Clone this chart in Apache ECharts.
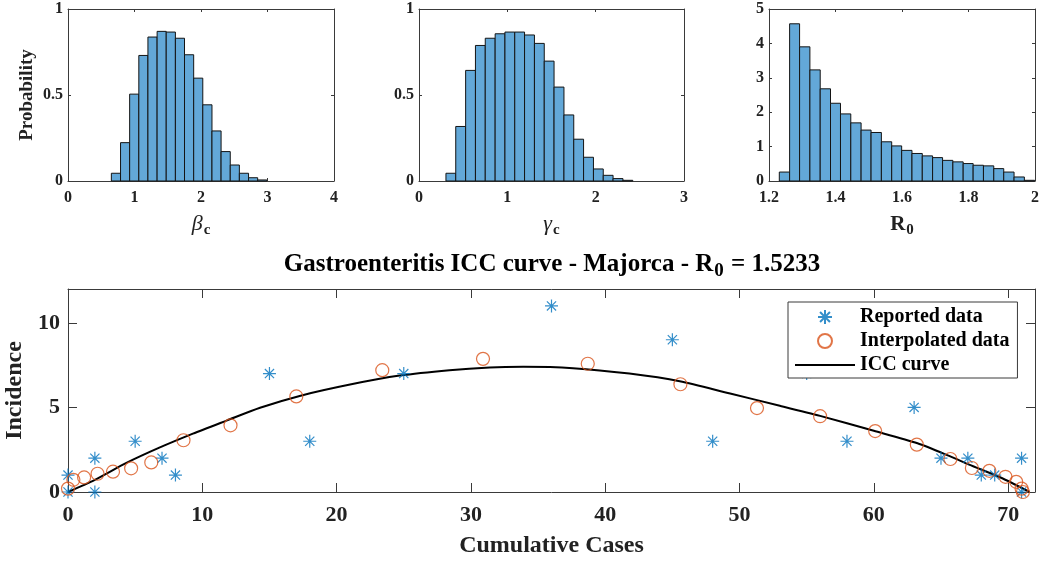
<!DOCTYPE html>
<html>
<head>
<meta charset="utf-8">
<title>Gastroenteritis ICC curve - Majorca</title>
<script src="https://cdn.jsdelivr.net/npm/echarts@6/dist/echarts.min.js"></script>
<style>
  html, body { margin: 0; padding: 0; background: #ffffff; }
  #chart { width: 1039px; height: 561px; }
</style>
</head>
<body>
<div id="chart"></div>
<script>
// ---- Posterior histograms (bin edges and bar heights) ----
const betaEdges = [0.652, 0.790, 0.927, 1.065, 1.202, 1.340, 1.477, 1.615, 1.752, 1.890,
                   2.027, 2.165, 2.302, 2.440, 2.577, 2.715, 2.852, 2.990];
const betaProb  = [0.045, 0.223, 0.505, 0.730, 0.837, 0.870, 0.866, 0.830, 0.734, 0.598,
                   0.443, 0.291, 0.171, 0.093, 0.045, 0.019, 0.006];

const gammaEdges = [0.305, 0.416, 0.528, 0.639, 0.750, 0.862, 0.973, 1.084, 1.195, 1.307,
                    1.418, 1.529, 1.641, 1.752, 1.863, 1.975, 2.086, 2.197, 2.309, 2.420];
const gammaProb  = [0.045, 0.317, 0.643, 0.788, 0.830, 0.856, 0.866, 0.866, 0.849, 0.800,
                    0.697, 0.546, 0.384, 0.243, 0.138, 0.070, 0.033, 0.014, 0.004];

const r0Edges = [1.231, 1.262, 1.292, 1.323, 1.354, 1.385, 1.415, 1.446, 1.477, 1.507,
                 1.538, 1.569, 1.599, 1.630, 1.661, 1.692, 1.722, 1.753, 1.784, 1.814,
                 1.845, 1.876, 1.906, 1.937, 1.968, 1.999];
const r0Prob  = [0.26, 4.57, 3.90, 3.23, 2.68, 2.26, 1.95, 1.69, 1.48, 1.41,
                 1.14, 1.02, 0.89, 0.80, 0.73, 0.68, 0.60, 0.556, 0.507, 0.458,
                 0.44, 0.36, 0.26, 0.117, 0.02];

// ---- Incidence vs cumulative cases ----
const reportedCum = [0, 0, 2, 2, 5, 7, 8, 15, 18, 25, 36, 45, 48, 55, 58, 63, 65, 67, 68, 69, 71, 71];
const reportedInc = [1, 0, 2, 0, 3, 2, 1, 7, 3, 7, 11, 9, 3, 7, 3, 5, 2, 2, 1, 1, 2, 0];

const interpCum = [0, 0.4, 1.2, 2.2, 3.35, 4.7, 6.2, 8.6, 12.1, 17, 23.4, 30.9, 38.7, 45.6,
                   51.3, 56, 60.1, 63.2, 65.7, 67.3, 68.6, 69.8, 70.6, 71, 71.1];
const interpInc = [0.2, 0.72, 0.86, 1.08, 1.2, 1.4, 1.75, 3.06, 3.94, 5.65, 7.2, 7.87, 7.58, 6.37,
                   4.96, 4.48, 3.6, 2.8, 1.95, 1.42, 1.25, 0.9, 0.6, 0.2, 0];

const iccCum = [0, 2, 4.35, 6.8, 9.3, 11.8, 14.3, 17.25, 21, 24.7, 28.4, 31.4, 33.9, 37.6,
                41.8, 45.55, 49.3, 53, 56, 60, 63.25, 65.65, 67.1, 69.6, 71.6];
const iccInc = [0, 0.72, 1.72, 2.62, 3.45, 4.22, 4.98, 5.68, 6.35, 6.88, 7.2, 7.36, 7.4, 7.32,
                7.0, 6.55, 5.82, 5.1, 4.5, 3.62, 2.88, 2.12, 1.62, 0.8, 0];

// ---- Styling ----
const SERIF = '"Liberation Serif", "Times New Roman", serif';
const AXIS_COLOR = '#3a3a3a';
const TEXT_COLOR = '#222222';
const BAR_FILL = '#63a8d8';
const BLUE = '#0072bd';
const ORANGE = '#d95319';

const chart = echarts.init(document.getElementById('chart'), null, { renderer: 'canvas' });

const pairs = (xs, ys) => xs.map((x, i) => [x, ys[i]]);
const bins = (edges, heights) => heights.map((h, i) => [edges[i], edges[i + 1], h]);

function renderBin(params, api) {
  const top = api.coord([api.value(0), api.value(2)]);
  const bot = api.coord([api.value(1), 0]);
  return {
    type: 'rect',
    shape: { x: top[0], y: top[1], width: bot[0] - top[0], height: bot[1] - top[1] },
    style: { fill: BAR_FILL, stroke: '#141414', lineWidth: 1 }
  };
}

const lineStyle = { color: AXIS_COLOR, width: 1 };

// Four axes per panel so the frame carries ticks on every side.
function frame(gridIndex, xr, yr, o) {
  const labelStyle = {
    fontFamily: SERIF, fontWeight: 'bold', fontSize: o.tickFont, color: TEXT_COLOR
  };
  const common = (r) => ({
    type: 'value', gridIndex, min: r[0], max: r[1], interval: r[2],
    splitLine: { show: false },
    axisLine: { show: true, onZero: false, lineStyle },
    axisTick: { show: true, inside: true, length: o.tickLen, lineStyle }
  });
  const xs = [
    Object.assign(common(xr), {
      position: 'bottom',
      axisLabel: Object.assign({ margin: o.xMargin, showMaxLabel: o.xShowMax !== false }, labelStyle),
      name: o.xName, nameLocation: 'middle', nameGap: o.xNameGap,
      nameTextStyle: o.xNameStyle
    }),
    Object.assign(common(xr), { position: 'top', axisLabel: { show: false } })
  ];
  const ys = [
    Object.assign(common(yr), {
      position: 'left',
      axisLabel: Object.assign({ margin: o.yMargin, showMaxLabel: o.yShowMax !== false }, labelStyle),
      name: o.yName || '', nameLocation: 'middle', nameGap: o.yNameGap || 0,
      nameTextStyle: o.yNameStyle || {}
    }),
    Object.assign(common(yr), { position: 'right', axisLabel: { show: false } })
  ];
  return { xs, ys };
}

const subRich = (mainStyle, size) => ({
  m: Object.assign({ fontFamily: SERIF, color: TEXT_COLOR }, mainStyle),
  s: { fontFamily: SERIF, fontWeight: 'bold', fontSize: size, color: TEXT_COLOR, padding: [12, 0, 0, 1] }
});

const topOpts = (name, rich) => ({
  tickFont: 16, tickLen: 3, xMargin: 9, yMargin: 5,
  xName: name, xNameGap: 30,
  xNameStyle: { rich }
});

const p0 = frame(0, [0, 4, 1], [0, 1, 0.5], Object.assign(topOpts('{m|β}{s|c}',
  subRich({ fontStyle: 'italic', fontSize: 22 }, 15)), {
  yName: 'Probability', yNameGap: 31,
  yNameStyle: { fontFamily: SERIF, fontWeight: 'bold', fontSize: 19, color: TEXT_COLOR }
}));
const p1 = frame(1, [0, 3, 1], [0, 1, 0.5], topOpts('{m|γ}{s|c}',
  subRich({ fontStyle: 'italic', fontSize: 22 }, 15)));
const p2 = frame(2, [1.2, 2, 0.2], [0, 5, 1], topOpts('{m|R}{s|0}',
  subRich({ fontWeight: 'bold', fontSize: 21 }, 15)));
const p3 = frame(3, [0, 72, 10], [0, 12, 5], {
  tickFont: 22, tickLen: 9, xMargin: 12, yMargin: 8, xShowMax: false, yShowMax: false,
  xName: 'Cumulative Cases', xNameGap: 42,
  xNameStyle: { fontFamily: SERIF, fontWeight: 'bold', fontSize: 24, color: TEXT_COLOR },
  yName: 'Incidence', yNameGap: 34,
  yNameStyle: { fontFamily: SERIF, fontWeight: 'bold', fontSize: 24, color: TEXT_COLOR }
});

const panels = [p0, p1, p2, p3];

const option = {
  backgroundColor: '#ffffff',
  animation: false,
  grid: [
    { left: 68, top: 9, width: 266, height: 172, outerBoundsMode: 'none' },
    { left: 419, top: 9, width: 265, height: 172, outerBoundsMode: 'none' },
    { left: 769, top: 9, width: 266, height: 172, outerBoundsMode: 'none' },
    { left: 68, top: 289, width: 967, height: 203, outerBoundsMode: 'none' }
  ],
  xAxis: panels.flatMap(p => p.xs),
  yAxis: panels.flatMap(p => p.ys),
  graphic: [{
    type: 'text',
    x: 552, y: 265,
    style: {
      text: '{t|Gastroenteritis ICC curve - Majorca - R}{s|0}{t| = 1.5233}',
      align: 'center', verticalAlign: 'middle',
      rich: {
        t: { fontFamily: SERIF, fontWeight: 'bold', fontSize: 25, color: '#000' },
        s: { fontFamily: SERIF, fontWeight: 'bold', fontSize: 19, color: '#000', padding: [12, 1, 0, 1] }
      }
    }
  }],
  legend: {
    orient: 'vertical',
    left: 788, top: 302,
    z: 10,
    padding: [5, 8, 3, 7],
    itemGap: 4,
    itemWidth: 60, itemHeight: 14,
    backgroundColor: '#ffffff',
    borderColor: '#3a3a3a', borderWidth: 1, borderRadius: 0,
    textStyle: { fontFamily: SERIF, fontWeight: 'bold', fontSize: 20, color: '#000', lineHeight: 20 },
    data: [
      'Reported data',
      'Interpolated data',
      { name: 'ICC curve', icon: 'path://M0,0H60V2H0Z', itemStyle: { color: '#000', borderWidth: 0 } }
    ]
  },
  series: [
    { type: 'custom', name: 'beta', xAxisIndex: 0, yAxisIndex: 0, encode: { x: [0, 1], y: 2 },
      renderItem: renderBin, data: bins(betaEdges, betaProb) },
    { type: 'custom', name: 'gamma', xAxisIndex: 2, yAxisIndex: 2, encode: { x: [0, 1], y: 2 },
      renderItem: renderBin, data: bins(gammaEdges, gammaProb) },
    { type: 'custom', name: 'R0', xAxisIndex: 4, yAxisIndex: 4, encode: { x: [0, 1], y: 2 },
      renderItem: renderBin, data: bins(r0Edges, r0Prob) },
    {
      type: 'line', name: 'ICC curve', xAxisIndex: 6, yAxisIndex: 6,
      data: pairs(iccCum, iccInc), smooth: 0.25, symbol: 'none',
      lineStyle: { color: '#000', width: 2 }, itemStyle: { color: '#000' }, z: 2
    },
    {
      type: 'scatter', name: 'Reported data', xAxisIndex: 6, yAxisIndex: 6,
      data: pairs(reportedCum, reportedInc),
      symbol: 'path://M0,-10L0,10M-10,0L10,0M-7.07,-7.07L7.07,7.07M-7.07,7.07L7.07,-7.07',
      symbolSize: 13,
      itemStyle: { color: 'none', borderColor: BLUE, borderWidth: 1.2 }, z: 3
    },
    {
      type: 'scatter', name: 'Interpolated data', xAxisIndex: 6, yAxisIndex: 6,
      data: pairs(interpCum, interpInc),
      symbol: 'circle', symbolSize: 13,
      itemStyle: { color: 'none', borderColor: ORANGE, borderWidth: 1.2 }, z: 3
    }
  ]
};

chart.setOption(option);
</script>
</body>
</html>
